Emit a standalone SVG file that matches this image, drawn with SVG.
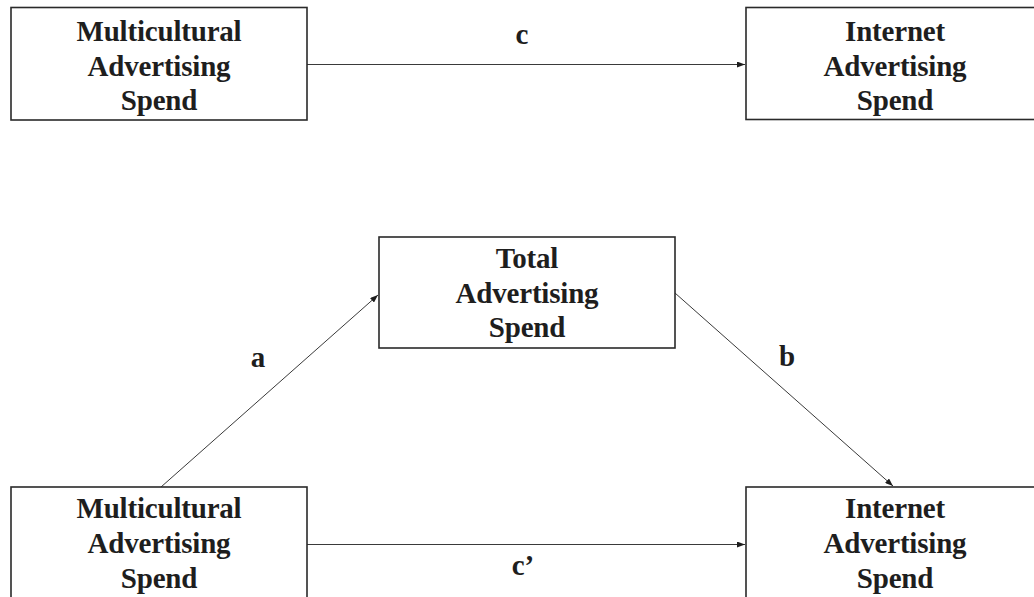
<svg xmlns="http://www.w3.org/2000/svg" width="1034" height="597" viewBox="0 0 1034 597">
<style>
.box{fill:#fff;stroke:#2a2a2a;stroke-width:1.6}
.t{font-family:"Liberation Serif","Times New Roman",serif;font-weight:bold;font-size:29px;letter-spacing:-0.2px;fill:#1e1e1e;text-anchor:middle}
.lbl{font-family:"Liberation Serif","Times New Roman",serif;font-weight:bold;font-size:29px;fill:#1e1e1e;text-anchor:middle}
.c{stroke:#3a3a3a;stroke-width:1;fill:none;marker-end:url(#ah)}
</style>
<defs>
<marker id="ah" markerWidth="8" markerHeight="6" refX="8" refY="3" orient="auto" markerUnits="userSpaceOnUse">
<path d="M0,0 L8,3 L0,6 z" fill="#1e1e1e"/>
</marker>
</defs>
<rect width="1034" height="597" fill="#fff"/>
<g id="connectors">
<line class="c" x1="307" y1="64.5" x2="745" y2="64.5"/>
<line class="c" x1="161" y1="487" x2="378" y2="295"/>
<line class="c" x1="675" y1="293" x2="893" y2="486"/>
<line class="c" x1="307" y1="544.5" x2="745" y2="544.5"/>
</g>
<g id="labels">
<text class="lbl" x="522" y="44">c</text>
<text class="lbl" x="258" y="367">a</text>
<text class="lbl" x="787" y="366">b</text>
<text class="lbl" x="523" y="575">c’</text>
</g>
<g id="node-mc-top">
<rect class="box" x="11" y="7.5" width="296" height="112.5"/>
<text class="t" x="159" y="41">Multicultural</text>
<text class="t" x="159" y="76">Advertising</text>
<text class="t" x="159" y="110">Spend</text>
</g>
<g id="node-ia-top">
<rect class="box" x="746" y="7.5" width="300" height="112"/>
<text class="t" x="895" y="41">Internet</text>
<text class="t" x="895" y="76">Advertising</text>
<text class="t" x="895" y="110">Spend</text>
</g>
<g id="node-total">
<rect class="box" x="379" y="237" width="296" height="111"/>
<text class="t" x="527" y="268">Total</text>
<text class="t" x="527" y="303">Advertising</text>
<text class="t" x="527" y="337">Spend</text>
</g>
<g id="node-mc-bottom">
<rect class="box" x="11" y="487" width="296" height="120"/>
<text class="t" x="159" y="518">Multicultural</text>
<text class="t" x="159" y="553">Advertising</text>
<text class="t" x="159" y="588">Spend</text>
</g>
<g id="node-ia-bottom">
<rect class="box" x="746" y="487" width="300" height="120"/>
<text class="t" x="895" y="518">Internet</text>
<text class="t" x="895" y="553">Advertising</text>
<text class="t" x="895" y="588">Spend</text>
</g>
</svg>
